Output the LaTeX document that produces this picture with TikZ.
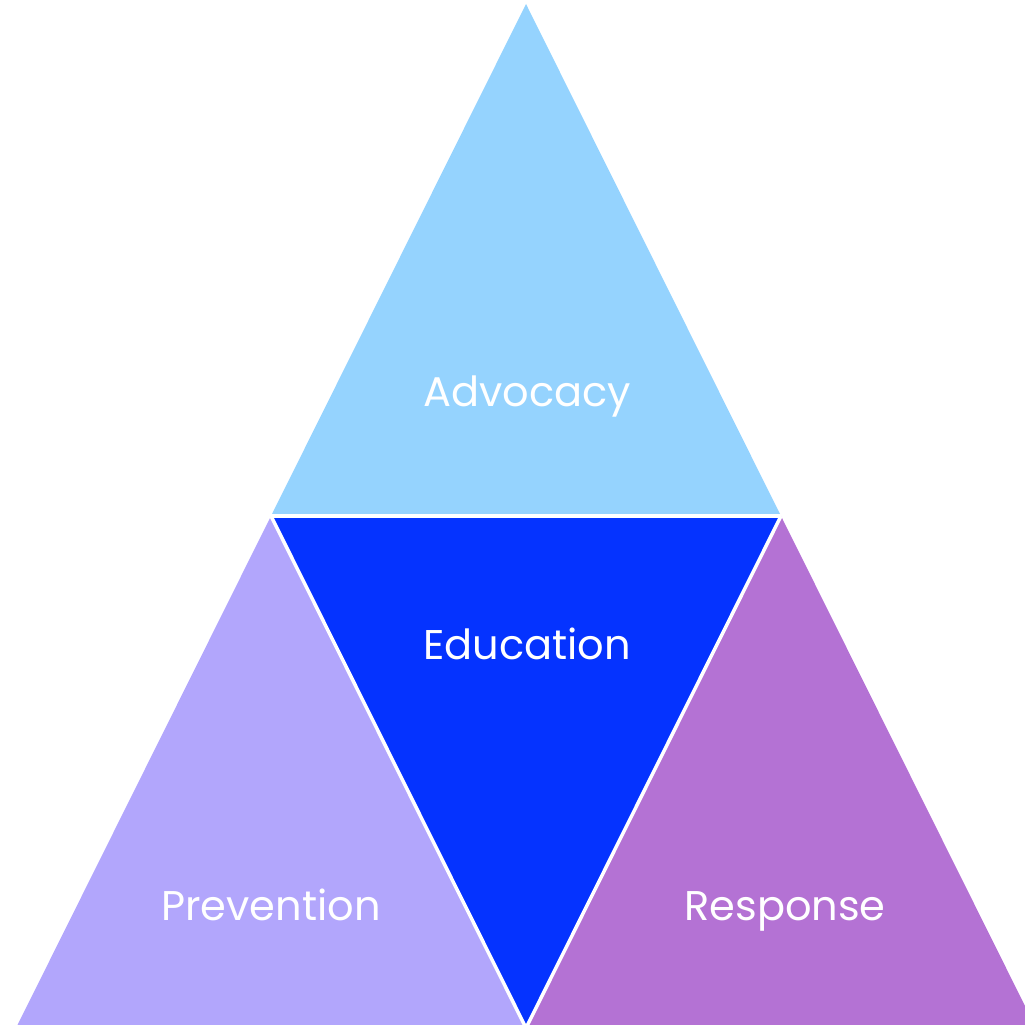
\documentclass[tikz,border=0pt]{standalone}
\usepackage{fontspec}
\setmainfont{Poppins}
\definecolor{cadv}{RGB}{149,211,254}
\definecolor{cedu}{RGB}{5,51,255}
\definecolor{cprev}{RGB}{178,166,252}
\definecolor{cresp}{RGB}{180,114,212}
\begin{document}
\begin{tikzpicture}[x=1pt,y=-1pt,
  sep/.style={draw=white,line width=3.5pt,line join=miter},
  lbl/.style={text=white,font=\fontsize{41.5}{48}\selectfont,inner sep=0pt,anchor=base}]
\useasboundingbox (0,0) rectangle (1025,1025);
\clip (0,0) rectangle (1025,1025);
\coordinate (T) at (526,4);
\coordinate (ML) at (271,516);
\coordinate (MR) at (781,516);
\coordinate (BL) at (16,1028);
\coordinate (BM) at (526,1028);
\coordinate (BR) at (1036,1028);
\fill[cadv] (T) -- (ML) -- (MR) -- cycle;
\fill[cedu] (ML) -- (MR) -- (BM) -- cycle;
\fill[cprev] (ML) -- (BL) -- (BM) -- cycle;
\fill[cresp] (MR) -- (BM) -- (BR) -- cycle;
\draw[sep] (ML) -- (MR);
\draw[sep] (ML) -- (BM) -- (MR);
\node[lbl] (adv) at (527,406) {Advocacy};
\node[lbl] (edu) at (527,659) {Education};
\node[lbl] (prev) at (271,920) {Prevention};
\node[lbl] (resp) at (785,920) {Response};
\end{tikzpicture}
\end{document}
